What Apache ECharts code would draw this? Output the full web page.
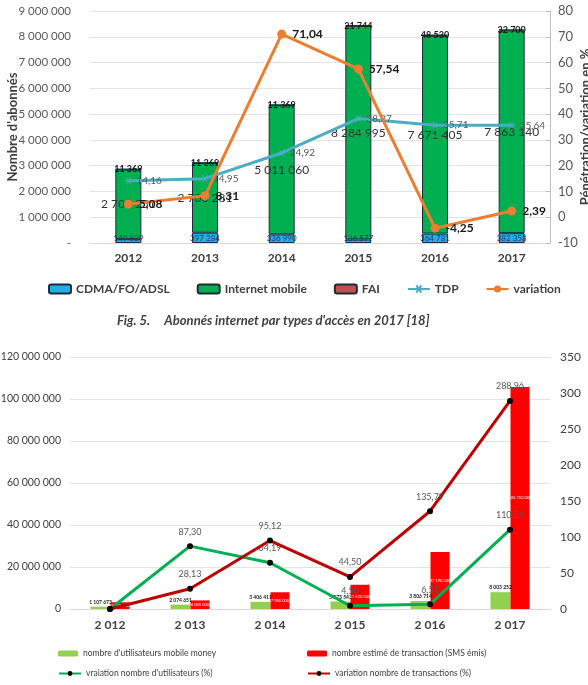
<!DOCTYPE html>
<html>
<head>
<meta charset="utf-8">
<script src="https://cdn.jsdelivr.net/npm/echarts@6/dist/echarts.min.js"></script>
<style>
  html, body { margin: 0; padding: 0; background: #fff; }
  #main { width: 588px; height: 685px; }
</style>
</head>
<body>
<div id="main"></div>
<script>
// chart 1 : abonnés internet
var years1 = ['2012', '2013', '2014', '2015', '2016', '2017']
var cdma = [149639, 397284, 336990, 136577, 364781, 382358]
var mobile = [2706251, 2706281, 5011060, 8284995, 7671405, 7863140]
var fai = [11369, 11369, 11369, 21744, 48530, 32700]
var tdp = [14.16, 14.95, 24.92, 38.27, 35.71, 35.64]
var variation = [5.08, 8.31, 71.04, 57.54, -4.25, 2.39]

// chart 2 : mobile money
var years2 = ['2 012', '2 013', '2 014', '2 015', '2 016', '2 017']
var users = [1107673, 2074651, 3406411, 3573543, 3806714, 8003252]
var transactions = [3192000, 4090000, 7980000, 11530000, 27190000, 105760000]
var varUsers = [0, 87.30, 64.19, 4.50, 6.51, 110.24]
var varTrans = [0, 28.13, 95.12, 44.50, 135.79, 288.96]

var FONT = 'Lato'

function fmt(v) {
  return String(Math.round(v)).replace(/\B(?=(\d{3})+(?!\d))/g, ' ')
}
function dec(v) {
  return v.toFixed(2).replace('.', ',')
}

var legendText = {fontFamily: FONT, fontSize: 8.5, color: '#404040'}

var myChart = echarts.init(document.getElementById('main'))
var option = {
  animation: false,
  textStyle: {fontFamily: FONT},
  grid: [
    {left: 90, right: 38, top: 11, height: 232, outerBoundsMode: 'none'},
    {left: 70, right: 38, top: 357, height: 252, outerBoundsMode: 'none'}
  ],
  legend: [
    {
      left: 43, top: 278, itemWidth: 22, itemHeight: 9, itemGap: 27,
      textStyle: {fontFamily: FONT, fontSize: 12, fontWeight: 'bold', color: '#404040'},
      data: ['CDMA/FO/ADSL', 'Internet mobile', 'FAI', 'TDP', 'variation']
    },
    {
      left: 53, top: 644, itemWidth: 20, itemHeight: 6, textStyle: legendText,
      data: ["nombre d'utilisateurs mobile money"]
    },
    {
      left: 302, top: 644, itemWidth: 20, itemHeight: 6, textStyle: legendText,
      data: ['nombre estimé de transaction (SMS émis)']
    },
    {
      left: 53, top: 664, itemWidth: 22, itemHeight: 6, textStyle: legendText,
      data: ["vraiation nombre d'utilisateurs (%)"]
    },
    {
      left: 302, top: 664, itemWidth: 22, itemHeight: 6, textStyle: legendText,
      data: ['variation nombre de transactions (%)']
    }
  ],
  graphic: [
    {
      type: 'text',
      left: 117,
      top: 314,
      style: {
        text: 'Fig. 5.     Abonnés internet par types d\'accès en 2017 [18]',
        font: 'italic bold 13px ' + FONT,
        fill: '#404040'
      }
    },
    {
      // titre axe gauche
      type: 'text', x: 13, y: 127, rotation: Math.PI / 2,
      style: {
        text: "Nombre d'abonnés", font: 'bold 13px ' + FONT, fill: '#404040',
        align: 'center', verticalAlign: 'middle'
      }
    },
    {
      // titre axe droit (coupé par le bord)
      type: 'text', x: 586, y: 127, rotation: Math.PI / 2,
      style: {
        text: 'Pénétration/variation en %', font: 'bold 13px ' + FONT, fill: '#404040',
        align: 'center', verticalAlign: 'middle'
      }
    }
  ],
  xAxis: [
    {
      type: 'category', gridIndex: 0, data: years1,
      axisLine: {lineStyle: {color: '#d9d9d9'}},
      axisTick: {show: false},
      axisLabel: {fontFamily: FONT, fontSize: 12, fontWeight: 'bold', color: '#404040', margin: 9}
    },
    {
      type: 'category', gridIndex: 1, data: years2,
      axisLine: {lineStyle: {color: '#d9d9d9'}},
      axisTick: {show: false},
      axisLabel: {fontFamily: FONT, fontSize: 12, fontWeight: 'bold', color: '#404040', margin: 10}
    }
  ],
  yAxis: [
    {
      type: 'value', gridIndex: 0, min: 0, max: 9000000, interval: 1000000,
      axisLine: {show: false},
      axisTick: {show: false},
      splitLine: {lineStyle: {color: '#e3e3e3'}},
      axisLabel: {
        fontFamily: FONT, fontSize: 11.5, color: '#595959', margin: 19,
        formatter: function(v) { return v === 0 ? '-' : fmt(v) }
      }
    },
    {
      type: 'value', gridIndex: 0, position: 'right', min: -10, max: 80, interval: 10,
      axisLine: {show: true, lineStyle: {color: '#bfbfbf'}},
      axisTick: {show: true, inside: true, length: 4, lineStyle: {color: '#bfbfbf'}},
      splitLine: {show: false},
      axisLabel: {fontFamily: FONT, fontSize: 13, color: '#595959', margin: 8}
    },
    {
      type: 'value', gridIndex: 1, min: 0, max: 120000000, interval: 20000000,
      axisLine: {show: false},
      axisTick: {show: false},
      splitLine: {lineStyle: {color: '#e3e3e3'}},
      axisLabel: {
        fontFamily: FONT, fontSize: 10.5, color: '#404040', margin: 9,
        formatter: function(v) { return fmt(v) }
      }
    },
    {
      type: 'value', gridIndex: 1, position: 'right', min: 0, max: 350, interval: 50,
      axisLine: {show: false},
      axisTick: {show: false},
      splitLine: {show: false},
      axisLabel: {fontFamily: FONT, fontSize: 12, color: '#404040', margin: 10}
    }
  ],
  series: [
    {
      name: 'CDMA/FO/ADSL', type: 'bar', stack: 'abo', xAxisIndex: 0, yAxisIndex: 0,
      barWidth: 26, data: cdma,
      itemStyle: {color: '#1fb0ec', borderColor: '#1d2b3a', borderWidth: 1},
      label: {
        show: true, position: 'insideBottom', distance: 1,
        fontFamily: FONT, fontSize: 8, color: '#1f3864',
        formatter: function(p) { return fmt(p.value) }
      }
    },
    {
      name: 'Internet mobile', type: 'bar', stack: 'abo', xAxisIndex: 0, yAxisIndex: 0,
      barWidth: 26, data: mobile,
      itemStyle: {color: '#00b050', borderColor: '#1d2b3a', borderWidth: 1},
      label: {
        show: true, position: 'inside',
        fontFamily: FONT, fontSize: 12, color: '#333333',
        formatter: function(p) { return fmt(p.value) }
      }
    },
    {
      name: 'FAI', type: 'bar', stack: 'abo', xAxisIndex: 0, yAxisIndex: 0,
      barWidth: 26, data: fai,
      itemStyle: {color: '#c0504d', borderColor: '#1d2b3a', borderWidth: 1},
      label: {
        show: true, position: 'inside',
        fontFamily: FONT, fontSize: 9, fontWeight: 'bold', color: '#1a1a1a',
        formatter: function(p) { return fmt(p.value) }
      }
    },
    {
      name: 'TDP', type: 'line', xAxisIndex: 0, yAxisIndex: 1, data: tdp,
      symbol: 'path://M0,5L10,5M1.5,1.5L8.5,8.5M8.5,1.5L1.5,8.5', symbolSize: 7,
      lineStyle: {color: '#4bacc6', width: 3},
      itemStyle: {color: '#4bacc6', borderColor: '#4bacc6', borderWidth: 1},
      z: 5,
      label: {
        show: true, position: 'right', distance: 4,
        fontFamily: FONT, fontSize: 10, color: '#595959',
        formatter: function(p) { return dec(p.value) }
      }
    },
    {
      name: 'variation', type: 'line', xAxisIndex: 0, yAxisIndex: 1, data: variation,
      symbol: 'circle', symbolSize: 9,
      lineStyle: {color: '#ed7d31', width: 3},
      itemStyle: {color: '#ed7d31'},
      z: 6,
      label: {
        show: true, position: 'right', distance: 6,
        fontFamily: FONT, fontSize: 12, fontWeight: 'bold', color: '#1a1a1a',
        formatter: function(p) { return dec(p.value) }
      }
    },
    {
      name: "nombre d'utilisateurs mobile money", type: 'bar', xAxisIndex: 1, yAxisIndex: 2,
      barWidth: 20, barGap: '0%', data: users,
      itemStyle: {color: '#92d050'},
      label: {
        show: true, position: 'top', distance: 2,
        fontFamily: FONT, fontSize: 5, fontWeight: 'bold', color: '#1a1a1a',
        formatter: function(p) { return fmt(p.value) }
      }
    },
    {
      name: 'nombre estimé de transaction (SMS émis)', type: 'bar', xAxisIndex: 1, yAxisIndex: 2,
      barWidth: 19, barGap: '0%', data: transactions,
      itemStyle: {color: '#ff0000'},
      label: {
        show: true, position: 'inside',
        fontFamily: FONT, fontSize: 4, color: '#ffffff',
        formatter: function(p) { return fmt(p.value) }
      }
    },
    {
      name: "vraiation nombre d'utilisateurs (%)", type: 'line', xAxisIndex: 1, yAxisIndex: 3,
      data: varUsers, symbol: 'circle', symbolSize: 6,
      lineStyle: {color: '#00b050', width: 3},
      itemStyle: {color: '#000000'},
      z: 5,
      label: {
        show: true, position: 'top', distance: 7,
        fontFamily: FONT, fontSize: 9, color: '#595959',
        formatter: function(p) { return p.dataIndex === 0 ? '' : dec(p.value) }
      }
    },
    {
      name: 'variation nombre de transactions (%)', type: 'line', xAxisIndex: 1, yAxisIndex: 3,
      data: varTrans, symbol: 'circle', symbolSize: 6,
      lineStyle: {color: '#c00000', width: 3},
      itemStyle: {color: '#000000'},
      z: 6,
      label: {
        show: true, position: 'top', distance: 7,
        fontFamily: FONT, fontSize: 9, color: '#595959',
        formatter: function(p) { return p.dataIndex === 0 ? '' : dec(p.value) }
      }
    }
  ]
}
myChart.setOption(option)
</script>
</body>
</html>
